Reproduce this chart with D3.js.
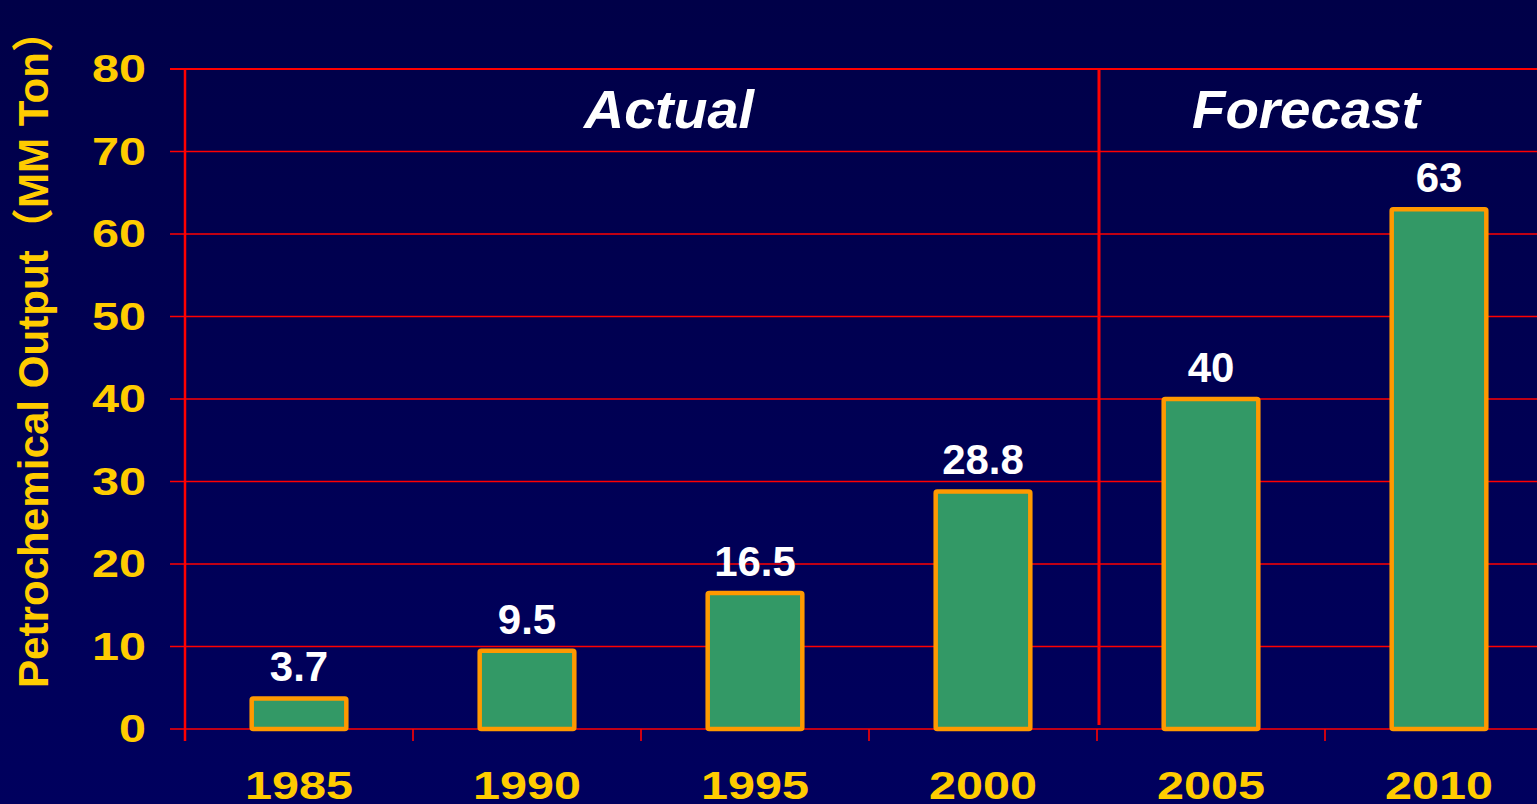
<!DOCTYPE html>
<html>
<head>
<meta charset="utf-8">
<script src="https://cdn.jsdelivr.net/npm/d3@7"></script>
<style>
  html, body { margin: 0; padding: 0; background: #000050; overflow: hidden; }
  svg { display: block; }
</style>
</head>
<body>
<div id="chart"></div>
<script>
(function() {
    'use strict';

    // data
    var years = ['1985', '1990', '1995', '2000', '2005', '2010'];
    var output = [3.7, 9.5, 16.5, 28.8, 40, 63];
    var valueLabels = ['3.7', '9.5', '16.5', '28.8', '40', '63'];
    var yTicks = [0, 10, 20, 30, 40, 50, 60, 70, 80];
    var sections = ['Actual', 'Forecast'];
    var yTitle = 'Petrochemical Output（MM Ton）';

    var W = 1537, H = 804;
    var margin = { top: 69, left: 185, bottom: 75 };

    var svg = d3.select('#chart').append('svg')
        .attr('width', W)
        .attr('height', H);

    // background
    var grad = svg.append('defs').append('linearGradient')
        .attr('id', 'bg').attr('x1', 0).attr('y1', 0).attr('x2', 0).attr('y2', 1);
    grad.append('stop').attr('offset', '0%').attr('stop-color', '#000048');
    grad.append('stop').attr('offset', '100%').attr('stop-color', '#00005e');
    svg.append('rect').attr('width', W).attr('height', H).attr('fill', 'url(#bg)');

    var x = d3.scaleBand()
        .domain(years)
        .range([margin.left, margin.left + 228 * years.length])
        .paddingInner(0.585)
        .paddingOuter(0.2925);

    var y = d3.scaleLinear()
        .domain([0, 80])
        .range([H - margin.bottom, margin.top]);

    // grid lines
    svg.append('g')
        .selectAll('line')
        .data(yTicks)
        .join('line')
        .attr('x1', margin.left - 15)
        .attr('x2', W)
        .attr('y1', function(d) { return y(d); })
        .attr('y2', function(d) { return y(d); })
        .attr('stroke', '#ff0000')
        .attr('stroke-width', function(d) { return d === 80 ? 2.2 : 1.6; });

    // y axis line
    svg.append('line')
        .attr('x1', margin.left).attr('x2', margin.left)
        .attr('y1', y(80)).attr('y2', y(0) + 12)
        .attr('stroke', '#ff0000').attr('stroke-width', 2.5);

    // y tick labels
    svg.append('g')
        .selectAll('text')
        .data(yTicks)
        .join('text')
        .attr('x', 146)
        .attr('y', function(d) { return y(d) + 13; })
        .attr('text-anchor', 'end')
        .attr('textLength', function(d) { return String(d).length * 27; })
        .attr('lengthAdjust', 'spacingAndGlyphs')
        .attr('fill', '#ffcc00')
        .style('font', 'bold 38px "Liberation Sans", Arial, sans-serif')
        .text(function(d) { return d; });

    // x axis ticks
    var step = x.step();
    var tickXs = d3.range(years.length).map(function(i) { return margin.left + i * step; });
    svg.append('g')
        .selectAll('line')
        .data(tickXs)
        .join('line')
        .attr('x1', function(d) { return d; })
        .attr('x2', function(d) { return d; })
        .attr('y1', y(0))
        .attr('y2', y(0) + 12)
        .attr('stroke', '#ff0000')
        .attr('stroke-width', 1.6);

    // x labels
    svg.append('g')
        .selectAll('text')
        .data(years)
        .join('text')
        .attr('x', function(d) { return x(d) + x.bandwidth() / 2; })
        .attr('y', 799)
        .attr('text-anchor', 'middle')
        .attr('textLength', 108)
        .attr('lengthAdjust', 'spacingAndGlyphs')
        .attr('fill', '#ffcc00')
        .style('font', 'bold 38px "Liberation Sans", Arial, sans-serif')
        .text(function(d) { return d; });

    // divider between actual and forecast
    var divX = margin.left + 4 * step + 2;
    svg.append('line')
        .attr('x1', divX).attr('x2', divX)
        .attr('y1', y(80)).attr('y2', y(0) - 4)
        .attr('stroke', '#ff0000').attr('stroke-width', 3);

    // bars
    svg.append('g')
        .selectAll('rect')
        .data(output)
        .join('rect')
        .attr('x', function(d, i) { return x(years[i]); })
        .attr('y', function(d) { return y(d); })
        .attr('width', x.bandwidth())
        .attr('height', function(d) { return y(0) - y(d); })
        .attr('rx', 1.5)
        .attr('fill', '#339966')
        .attr('stroke', '#ff9900')
        .attr('stroke-width', 4.5);

    // value labels
    svg.append('g')
        .selectAll('text')
        .data(output)
        .join('text')
        .attr('x', function(d, i) { return x(years[i]) + x.bandwidth() / 2; })
        .attr('y', function(d) { return y(d) - 17; })
        .attr('text-anchor', 'middle')
        .attr('fill', '#ffffff')
        .style('font', 'bold 42px "Liberation Sans", Arial, sans-serif')
        .text(function(d, i) { return valueLabels[i]; });

    // section titles
    svg.append('g')
        .selectAll('text')
        .data(sections)
        .join('text')
        .attr('x', function(d, i) { return i === 0 ? 669 : 1306; })
        .attr('y', 128)
        .attr('text-anchor', 'middle')
        .attr('textLength', function(d, i) { return i === 0 ? 170 : 228; })
        .attr('lengthAdjust', 'spacingAndGlyphs')
        .attr('fill', '#ffffff')
        .style('font', 'italic bold 54px "Liberation Sans", Arial, sans-serif')
        .text(function(d) { return d; });

    // y axis title
    svg.append('text')
        .attr('transform', 'translate(48,688) rotate(-90)')
        .attr('text-anchor', 'start')
        .attr('textLength', 678)
        .attr('lengthAdjust', 'spacingAndGlyphs')
        .attr('fill', '#ffcc00')
        .style('font', 'bold 42px "Liberation Sans", "Noto Sans CJK SC", Arial, sans-serif')
        .text(yTitle);
})();
</script>
</body>
</html>
